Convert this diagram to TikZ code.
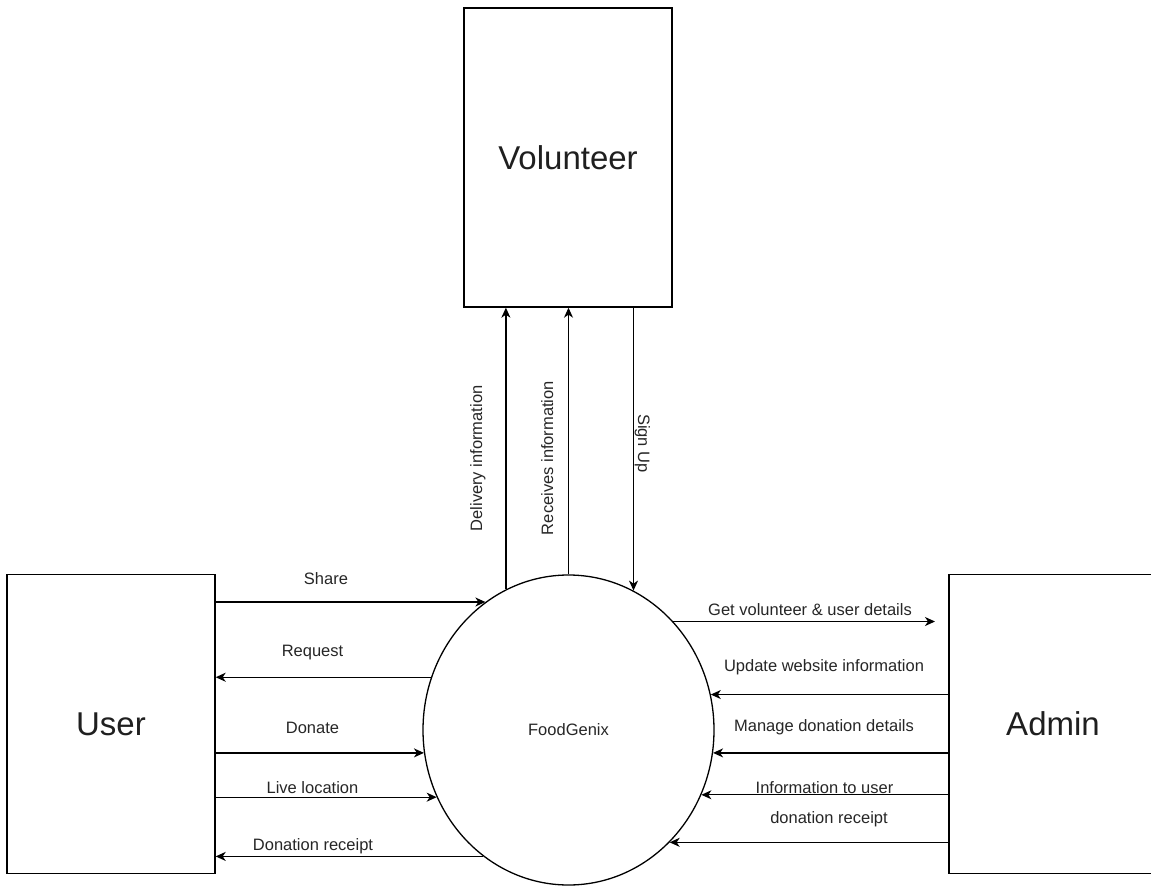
\documentclass[tikz,border=0pt]{standalone}
\usepackage{fontspec}
\setmainfont{Liberation Sans}
\usetikzlibrary{shapes.geometric,arrows.meta}

\tikzset{
  entity/.style={draw, line width=1.4pt, minimum width=208pt, minimum height=299pt,
                 inner sep=0pt, font=\fontsize{33}{38}\selectfont, text=black!88},
  process/.style={draw, ellipse, line width=1.3pt, minimum width=291pt, minimum height=310pt,
                  inner sep=0pt, font=\fontsize{16.5}{19}\selectfont, text=black!85},
  flow/.style={line width=1.3pt, -{Stealth[length=10pt, width=9pt, inset=3pt]}},
  flowlabel/.style={inner sep=0pt, anchor=base, font=\fontsize{16.5}{19}\selectfont, text=black!85},
}

\begin{document}
\begin{tikzpicture}[x=1pt, y=-1pt]
  \useasboundingbox (0,0) rectangle (1151,886);

  % external entities and the central process
  \node[entity] (vol)   at (568,157.5) {Volunteer};
  \node[entity] (user)  at (111,724)   {User};
  \node[entity] (admin) at (1053,724)  {Admin};
  \node[process] (fg)   at (568.5,730) {FoodGenix};
  \coordinate (gvend) at (935,0);

  % volunteer flows
  \draw[flow] (fg.114.06) -- (fg.114.06 |- vol.south);
  \draw[flow] (fg.90) -- (fg.90 |- vol.south);
  \draw[flow] (fg.65.94 |- vol.south) -- (fg.65.94);
  \node[flowlabel, rotate=90]  (l1) at (482,458.5) {Delivery information};
  \node[flowlabel, rotate=90]  (l2) at (553,458)   {Receives information};
  \node[flowlabel, rotate=-90] (l3) at (638,443.5) {Sign Up};

  % user flows
  \draw[flow] (user.east |- fg.123.9) -- (fg.123.9);
  \draw[flow] (fg.159.2) -- (user.east |- fg.159.2);
  \draw[flow] (user.east |- fg.189.1) -- (fg.189.1);
  \draw[flow] (user.east |- fg.207.05) -- (fg.207.05);
  \draw[flow] (fg.236.1) -- (user.east |- fg.236.1);
  \node[flowlabel] (l4) at (326,584)   {Share};
  \node[flowlabel] (l5) at (312.5,656) {Request};
  \node[flowlabel] (l6) at (312.5,733) {Donate};
  \node[flowlabel] (l7) at (312.5,793) {Live location};
  \node[flowlabel] (l8) at (313,850)   {Donation receipt};

  % admin flows
  \draw[flow] (fg.46.5) -- (fg.46.5 -| gvend);
  \draw[flow] (admin.west |- fg.14.3) -- (fg.14.3);
  \draw[flow] (admin.west |- fg.-9.5) -- (fg.-9.5);
  \draw[flow] (admin.west |- fg.-26.25) -- (fg.-26.25);
  \draw[flow] (admin.west |- fg.-48.07) -- (fg.-48.07);
  \node[flowlabel] (l9)  at (810,615)   {Get volunteer \& user details};
  \node[flowlabel] (l10) at (824,671)   {Update website information};
  \node[flowlabel] (l11) at (824,731)   {Manage donation details};
  \node[flowlabel] (l12) at (824.5,793) {Information to user};
  \node[flowlabel] (l13) at (829,823)   {donation receipt};
\end{tikzpicture}
\end{document}
